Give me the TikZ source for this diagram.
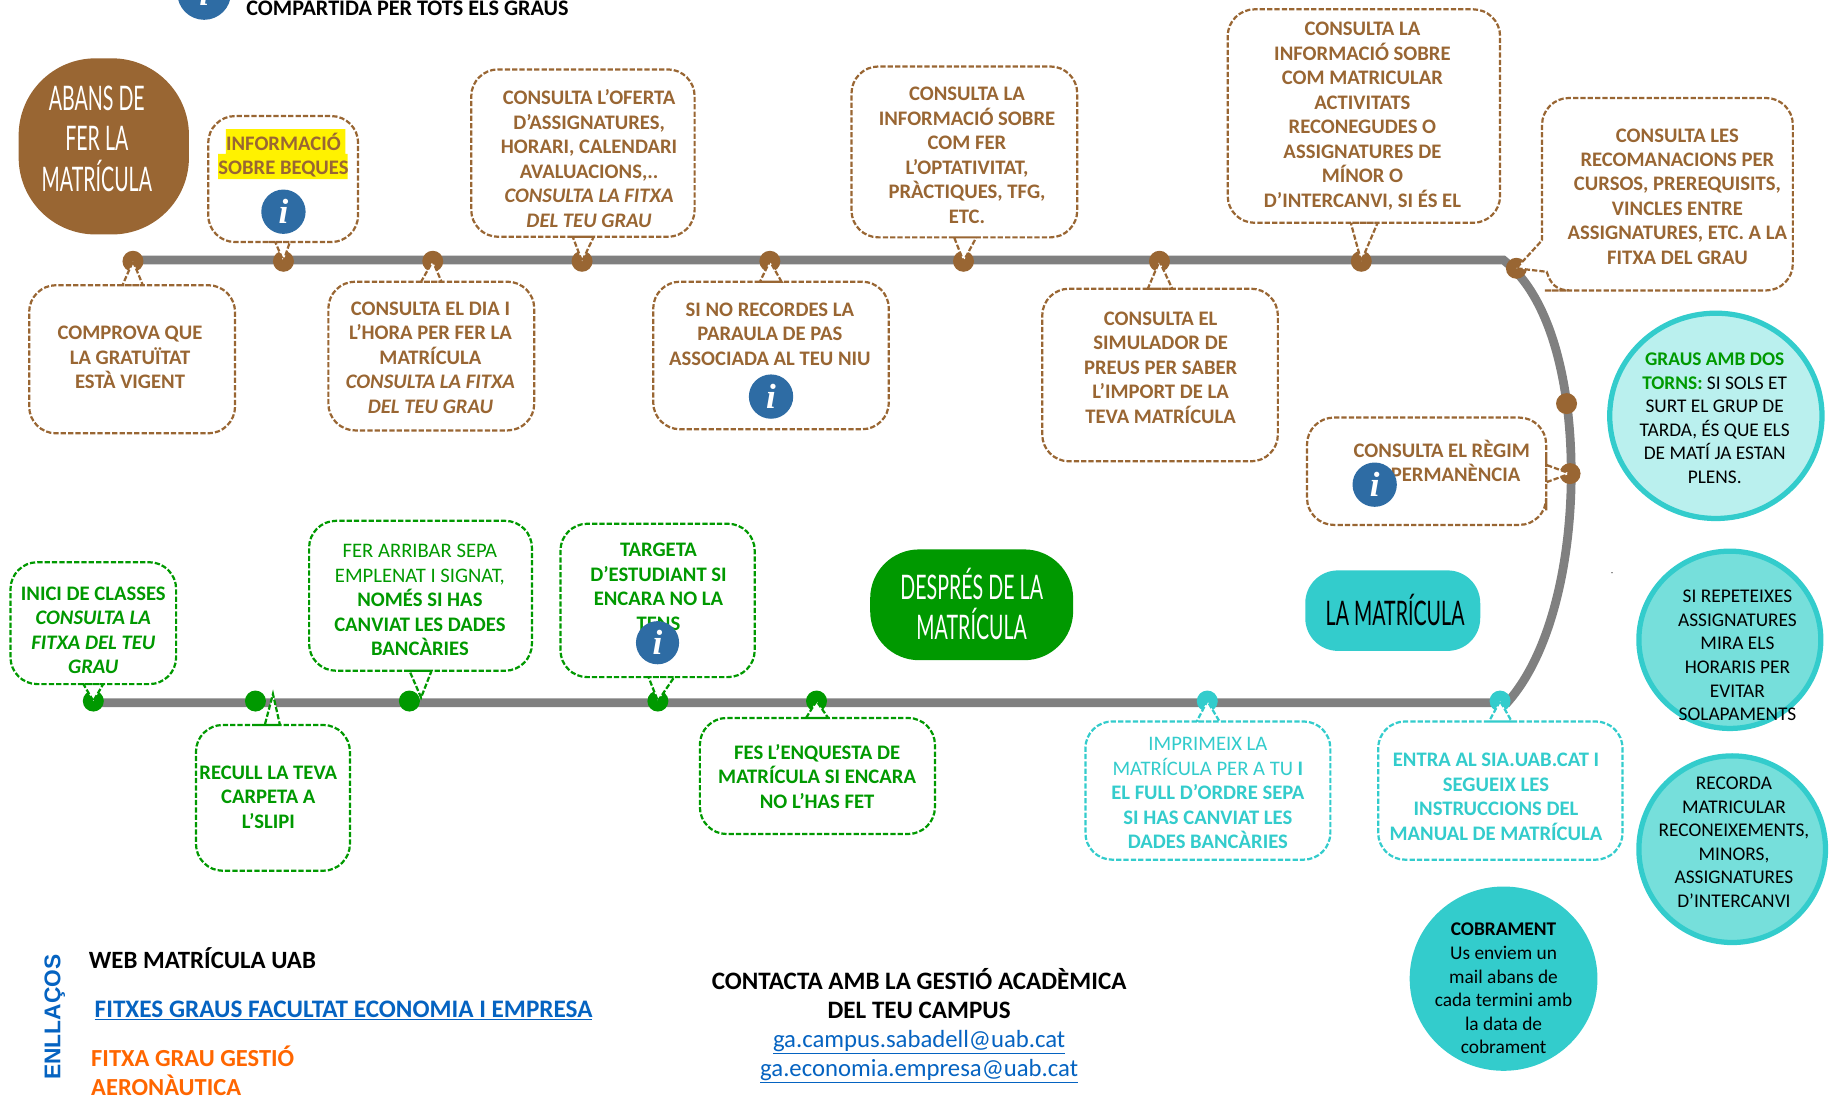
\documentclass[tikz,border=0pt]{standalone}
\usepackage{fontspec}
\setmainfont{Carlito}
\newfontfamily\headfont[FakeStretch=0.58]{Lato}
\newfontfamily\arialfont{Liberation Sans}
\newfontfamily\iconfont{Liberation Serif}
\usetikzlibrary{shapes.geometric,calc}
\definecolor{brownc}{HTML}{996633}
\definecolor{greenc}{HTML}{009900}
\definecolor{tealc}{HTML}{33CCCC}
\definecolor{teallight}{HTML}{BAF0EE}
\definecolor{tealmid}{HTML}{76DFDB}
\definecolor{iconblue}{HTML}{2E6CA4}
\definecolor{linkblue}{HTML}{0563C1}
\definecolor{greyline}{HTML}{808080}
\definecolor{orangec}{HTML}{FF6600}
\tikzset{
  x=1pt,y=-1pt,
  dashbox/.style={draw=#1,line width=1.9pt,dash pattern=on 4.5pt off 1.8pt,fill=white},
  tl/.style={draw=greyline,line width=7.5pt},
  dot/.style={circle,fill=#1,minimum size=18pt,inner sep=0pt},
  label/.style={font=\fontsize{17.7}{21}\selectfont\bfseries,text=#1,align=center,inner sep=0pt},
  roundtext/.style={font=\fontsize{16.6}{20.2}\selectfont,text=black,align=center,inner sep=0pt},
  blob/.style={ellipse,inner sep=0pt},
  pill/.style={fill=#1,inner sep=0pt},
  head/.style={font=\fontsize{#1}{34.5}\selectfont\headfont,align=center,inner sep=0pt},
  icon/.style={circle,fill=iconblue,text=white,inner sep=0pt,font=\fontsize{30}{30}\selectfont\iconfont\bfseries\itshape},
  plain/.style={inner sep=0pt,align=left}
}
% tail at the bottom: colour, x1,y1,x2,y2, tail base a,b, tip
\newcommand{\calloutB}[8]{\draw[dashbox=#1] (#6,#5) [rounded corners=23pt] -- (#2,#5) -- (#2,#3) -- (#4,#3) -- (#4,#5) -- (#7+1,#5) [sharp corners] -- (#7,#5) -- #8 -- cycle;}
% tail at the top
\newcommand{\calloutT}[8]{\draw[dashbox=#1] (#6,#3) [rounded corners=23pt] -- (#2,#3) -- (#2,#5) -- (#4,#5) -- (#4,#3) -- (#7+1,#3) [sharp corners] -- (#7,#3) -- #8 -- cycle;}
% tail on the right
\newcommand{\calloutR}[8]{\draw[dashbox=#1] (#4,#6) [rounded corners=23pt] -- (#4,#3) -- (#2,#3) -- (#2,#5) -- (#4,#5) -- (#4,#7+1) [sharp corners] -- (#4,#7) -- #8 -- cycle;}
\newcommand{\infoicon}[4]{\node[icon,minimum size=#4pt] (#1) at (#2,#3) {i};}
\begin{document}
\begin{tikzpicture}
\useasboundingbox (0,0) rectangle (1568,938.8);
\clip (0,0) rectangle (1568,938.8);

% header legend
\infoicon{legendicon}{175}{-6}{46}
\node[plain,font=\fontsize{19}{21}\selectfont\bfseries,anchor=west] (legendtext) at (211,7) {COMPARTIDA PER TOTS ELS GRAUS};

% timeline
\draw[tl] (115,223) -- (1289,223) .. controls (1330,255) and (1347,330) .. (1347,406) .. controls (1347,480) and (1330,560) .. (1292,602.5) -- (80,602.5);

% dots
\foreach \n/\x in {b1/114,b2/243,b3/371,b4/499,b5/660,b6/826,b7/994,b8/1167}
  \node[dot=brownc] (\n) at (\x,224) {};
\node[dot=brownc] (b9) at (1300,230) {};
\node[dot=brownc] (b10) at (1343,346) {};
\node[dot=brownc] (b11) at (1346,406) {};
\foreach \n/\x in {g1/80,g2/219,g3/351,g4/564,g5/700}
  \node[dot=greenc] (\n) at (\x,601) {};
\foreach \n/\x in {t1/1035,t2/1286}
  \node[dot=tealc] (\n) at (\x,601) {};

% heading pills
\node[pill=brownc,rounded corners=66pt,minimum width=146pt,minimum height=151pt] (abans) at (89,125.5) {};
\node[head=29,text=white] (abanstext) at (83,119) {ABANS DE\\FER LA\\MATRÍCULA};
\node[pill=greenc,rounded corners=42pt,minimum width=174pt,minimum height=95pt] (despres) at (833,518.5) {};
\node[head=29,text=white] (desprestext) at (833,518) {DESPRÉS DE LA\\MATRÍCULA};
\node[pill=tealc,rounded corners=28pt,minimum width=150pt,minimum height=69pt] (matricula) at (1194,523.5) {};
\node[head=29,text=black] (matriculatext) at (1196,523) {LA MATRÍCULA};

% brown callouts
\calloutB{brownc}{178.5}{99.5}{307}{207.5}{236}{248.5}{(b2.center)}
\fill[yellow] (193.6,110.6) rectangle (296,132) (187,132) rectangle (298,153.5);
\node[label=brownc] (beques) at (243,133) {INFORMACIÓ\\SOBRE BEQUES};
\infoicon{iconbeques}{243}{181.5}{38}

\calloutB{brownc}{404}{59.5}{595.5}{203}{491}{509}{(b4.center)}
\node[label=brownc] (oferta) at (505,136) {CONSULTA L’OFERTA\\D’ASSIGNATURES,\\HORARI, CALENDARI\\AVALUACIONS,..\\\textit{CONSULTA LA FITXA}\\\textit{DEL TEU GRAU}};

\calloutT{brownc}{25}{244.5}{201.5}{371.5}{105}{122.5}{(b1.center)}
\node[label=brownc] (gratuitat) at (111.5,306.5) {COMPROVA QUE\\LA GRATUÏTAT\\ESTÀ VIGENT};

\calloutT{brownc}{281.5}{241.5}{458}{369}{361}{378.5}{(b3.center)}
\node[label=brownc] (dia) at (369,306.5) {CONSULTA EL DIA I\\L’HORA PER FER LA\\MATRÍCULA\\\textit{CONSULTA LA FITXA}\\\textit{DEL TEU GRAU}};

\calloutT{brownc}{560}{241.5}{762}{368}{651.5}{670}{(b5.center)}
\node[label=brownc] (paraula) at (660,286.5) {SI NO RECORDES LA\\PARAULA DE PAS\\ASSOCIADA AL TEU NIU};
\infoicon{iconparaula}{661}{340}{38}

\calloutB{brownc}{730}{57}{923.5}{203.5}{818}{837}{(b6.center)}
\node[label=brownc] (optativitat) at (829,133) {CONSULTA LA\\INFORMACIÓ SOBRE\\COM FER\\L’OPTATIVITAT,\\PRÀCTIQUES, TFG,\\ETC.};

\calloutT{brownc}{893.5}{247.5}{1095.5}{395.5}{984}{1005}{(b7.center)}
\node[label=brownc] (simulador) at (995,315) {CONSULTA EL\\SIMULADOR DE\\PREUS PER SABER\\L’IMPORT DE LA\\TEVA MATRÍCULA};

\calloutB{brownc}{1052.5}{8}{1286}{191}{1158}{1181}{(b8.center)}
\node[label=brownc] (activitats) at (1168,99.5) {CONSULTA LA\\INFORMACIÓ SOBRE\\COM MATRICULAR\\ACTIVITATS\\RECONEGUDES O\\ASSIGNATURES DE\\MÍNOR O\\D’INTERCANVI, SI ÉS EL};

\draw[dashbox=brownc] (1322,206) [rounded corners=23pt] -- (1322,84) -- (1537,84) -- (1537,249) -- (1347,249) [sharp corners] -- (1346,249) .. controls (1334,249) and (1329,243) .. (1326,233) -- (b9.center) -- cycle;
\node[label=brownc] (recomanacions) at (1438,168.5) {CONSULTA LES\\RECOMANACIONS PER\\CURSOS, PREREQUISITS,\\VINCLES ENTRE\\ASSIGNATURES, ETC. A LA\\FITXA DEL GRAU};

\calloutR{brownc}{1120.5}{358}{1325.5}{450}{398.5}{413.5}{(b11.center)}
\node[label=brownc] (regim) at (1236,395) {CONSULTA EL RÈGIM\\DE PERMANÈNCIA};
\infoicon{iconregim}{1178.5}{415.5}{38}

% green callouts
\calloutB{greenc}{9}{482}{151}{586.5}{71.5}{88.5}{(g1.center)}
\node[label=greenc] (inici) at (80,540.5) {INICI DE CLASSES\\\textit{CONSULTA LA}\\\textit{FITXA DEL TEU}\\\textit{GRAU}};

\coordinate (tiprecull) at ($(g2.center)+(15,-6)$);
\calloutT{greenc}{168}{621.5}{300}{746.5}{227}{240}{(tiprecull)}
\node[label=greenc] (recull) at (230,683.5) {RECULL LA TEVA\\CARPETA A\\L’SLIPI};

\coordinate (tipsepa) at ($(g3.center)+(10,-3)$);
\calloutB{greenc}{265}{446.5}{456}{575}{351}{370}{(tipsepa)}
\node[label=greenc] (sepa) at (360,514.5) {\mdseries FER ARRIBAR SEPA\\\mdseries EMPLENAT I SIGNAT,\\NOMÉS SI HAS\\CANVIAT LES DADES\\BANCÀRIES};

\calloutB{greenc}{480.5}{449}{647}{580.5}{556}{578}{(g4.center)}
\node[label=greenc] (targeta) at (564.5,503) {TARGETA\\D’ESTUDIANT SI\\ENCARA NO LA\\TENS};
\infoicon{icontargeta}{563.7}{551}{37}

\calloutT{greenc}{600}{615.5}{801.5}{715}{691}{710}{(g5.center)}
\node[label=greenc] (enquesta) at (700.5,665.5) {FES L’ENQUESTA DE\\MATRÍCULA SI ENCARA\\NO L’HAS FET};

% teal callouts
\calloutT{tealc}{930.5}{618.5}{1140.5}{737}{1026}{1045.5}{(t1.center)}
\node[label=tealc] (imprimeix) at (1035.5,680) {\mdseries IMPRIMEIX LA\\\mdseries MATRÍCULA PER A TU \bfseries I\\EL FULL D’ORDRE SEPA\\SI HAS CANVIAT LES\\DADES BANCÀRIES};

\calloutT{tealc}{1181.5}{618.5}{1391}{737}{1276.5}{1296}{(t2.center)}
\node[label=tealc] (entra) at (1282.5,683) {ENTRA AL SIA.UAB.CAT I\\SEGUEIX LES\\INSTRUCCIONS DEL\\MANUAL DE MATRÍCULA};

% round notes
\node[blob,draw=tealc,line width=4.5pt,fill=teallight,minimum width=182pt,minimum height=176pt] (torns) at (1471,356.5) {};
\node[roundtext] (tornstext) at (1470,358.5) {\textcolor{greenc}{\bfseries GRAUS AMB DOS}\\\textcolor{greenc}{\bfseries TORNS:} SI SOLS ET\\SURT EL GRUP DE\\TARDA, ÉS QUE ELS\\DE MATÍ JA ESTAN\\PLENS.};
\node[blob,draw=tealc,line width=4.5pt,fill=tealmid,minimum width=156pt,minimum height=152pt] (repeteixes) at (1483,548.5) {};
\node[roundtext] (repeteixestext) at (1489.5,562) {SI REPETEIXES\\ASSIGNATURES\\MIRA ELS\\HORARIS PER\\EVITAR\\SOLAPAMENTS};
\node[blob,draw=tealc,line width=4.5pt,fill=tealmid,minimum width=160pt,minimum height=160pt] (recorda) at (1485,728) {};
\node[roundtext] (recordatext) at (1486.5,722) {RECORDA\\MATRICULAR\\RECONEIXEMENTS,\\MINORS,\\ASSIGNATURES\\D’INTERCANVI};
\node[blob,fill=tealc,minimum width=161pt,minimum height=158pt] (cobrament) at (1289,839) {};
\node[roundtext] (cobramenttext) at (1289,847.5) {\bfseries COBRAMENT\\Us enviem un\\mail abans de\\cada termini amb\\la data de\\cobrament};
\node[circle,fill=black,minimum size=1pt,inner sep=0pt] (speck) at (1382,491) {};

% links
\node[rotate=90,font=\fontsize{19.5}{22}\selectfont\arialfont\bfseries,text=linkblue,inner sep=0pt] (enllacos) at (47,872) {ENLLAÇOS};
\node[plain,anchor=west,font=\fontsize{21.3}{24}\selectfont\bfseries] (web) at (76,821.5) {WEB MATRÍCULA UAB};
\node[plain,anchor=west,font=\fontsize{21.6}{24}\selectfont\bfseries,text=linkblue] (fitxes) at (81,866) {\underline{FITXES GRAUS FACULTAT ECONOMIA I EMPRESA}};
\node[plain,anchor=north west,font=\fontsize{21}{25}\selectfont\bfseries,text=orangec] (gestio) at (78,896.5) {FITXA GRAU GESTIÓ\\AERONÀUTICA};
\node[font=\fontsize{21.5}{25}\selectfont\bfseries,align=center,inner sep=0pt] (contacta) at (788,851.5) {CONTACTA AMB LA GESTIÓ ACADÈMICA\\DEL TEU CAMPUS};
\node[font=\fontsize{21.2}{25}\selectfont,text=linkblue,align=center,inner sep=0pt] (mails) at (788,906) {\underline{ga.campus.sabadell@uab.cat}\\\underline{ga.economia.empresa@uab.cat}};
\end{tikzpicture}
\end{document}
